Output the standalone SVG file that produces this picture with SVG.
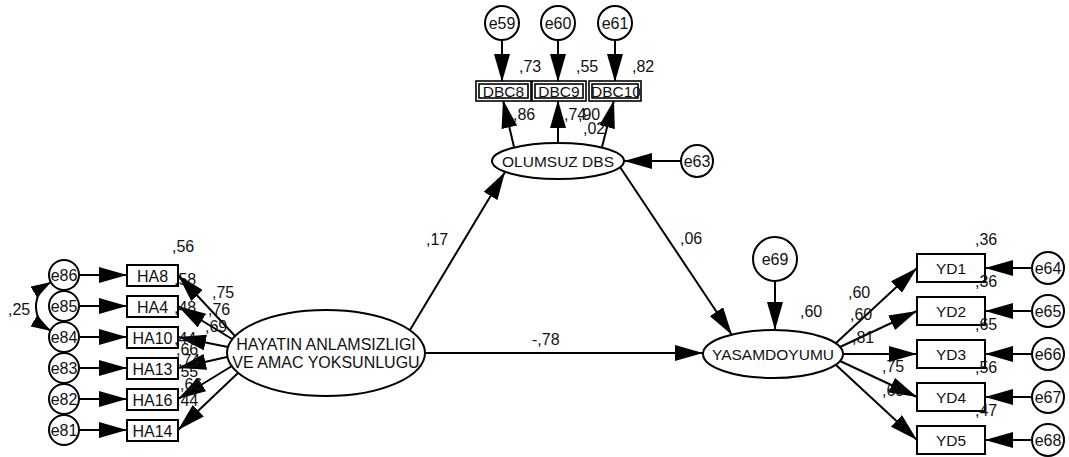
<svg xmlns="http://www.w3.org/2000/svg" width="1069" height="457" viewBox="0 0 1069 457">
<style>
  .shape { fill: #ffffff; stroke: #000000; stroke-width: 2; }
  .dbo { fill: #ffffff; stroke: #000000; stroke-width: 1.6; }
  .dbi { fill: none; stroke: #000000; stroke-width: 1.6; }
  text { font-family: "Liberation Sans", Arial, sans-serif; fill: #111111; }
  .lbl { font-size: 16px; }
  .nt { font-size: 15.5px; text-anchor: middle; }
  .ht { font-size: 16px; text-anchor: middle; }
  .et { font-size: 16px; text-anchor: middle; }
  .con line, .con path { stroke: #000000; stroke-width: 2; fill: none; marker-end: url(#ah); }
  .con path.cov { marker-start: url(#ahs); marker-end: url(#ahs); }
</style>
<defs>
  <marker id="ah" markerUnits="userSpaceOnUse" markerWidth="29" markerHeight="16" refX="28" refY="8" orient="auto">
    <path d="M0,0 L28,8 L0,16 z" fill="#000000"/>
  </marker>
  <marker id="ahs" markerUnits="userSpaceOnUse" markerWidth="21" markerHeight="13" refX="20" refY="6.5" orient="auto-start-reverse">
    <path d="M0,0 L20,6.5 L0,13 z" fill="#000000"/>
  </marker>
</defs>
<rect width="1069" height="457" fill="#ffffff"/>

<!-- connectors -->
<g id="connectors" class="con">
  <line x1="79" y1="275" x2="127" y2="275"/>
  <line x1="79" y1="306" x2="127" y2="306"/>
  <line x1="79" y1="337" x2="127" y2="337"/>
  <line x1="79" y1="368" x2="127" y2="368"/>
  <line x1="79" y1="399" x2="127" y2="399"/>
  <line x1="79" y1="430" x2="127" y2="430"/>
  <path class="cov" d="M51,282 C31,294 31,319 51,331"/>
  <line x1="235" y1="336" x2="178" y2="275"/>
  <line x1="232" y1="339" x2="178" y2="306"/>
  <line x1="228" y1="347" x2="178" y2="337"/>
  <line x1="227" y1="357" x2="178" y2="368"/>
  <line x1="232" y1="366" x2="178" y2="399"/>
  <line x1="238" y1="373" x2="178" y2="430"/>
  <line x1="502" y1="40" x2="502" y2="82"/>
  <line x1="558" y1="40" x2="558" y2="82"/>
  <line x1="615" y1="40" x2="615" y2="82"/>
  <line x1="514" y1="147" x2="503" y2="100"/>
  <line x1="558" y1="143" x2="558" y2="100"/>
  <line x1="602" y1="147" x2="614" y2="100"/>
  <line x1="681" y1="161" x2="624" y2="161"/>
  <line x1="410" y1="330" x2="505" y2="172"/>
  <line x1="620" y1="167" x2="732" y2="335"/>
  <line x1="425" y1="353" x2="703" y2="353"/>
  <line x1="775" y1="281" x2="775" y2="330"/>
  <line x1="836" y1="343" x2="917" y2="268"/>
  <line x1="840" y1="347" x2="917" y2="311"/>
  <line x1="843" y1="354" x2="917" y2="354"/>
  <line x1="840" y1="361" x2="917" y2="397"/>
  <line x1="836" y1="365" x2="917" y2="440"/>
  <line x1="1032" y1="268" x2="985" y2="268"/>
  <line x1="1032" y1="311" x2="985" y2="311"/>
  <line x1="1032" y1="354" x2="985" y2="354"/>
  <line x1="1032" y1="397" x2="985" y2="397"/>
  <line x1="1032" y1="440" x2="985" y2="440"/>
</g>

<g id="e86"><circle class="shape" cx="64" cy="275" r="15"/><text class="et" x="64" y="281">e86</text></g>
<g id="e85"><circle class="shape" cx="64" cy="306" r="15"/><text class="et" x="64" y="312">e85</text></g>
<g id="e84"><circle class="shape" cx="64" cy="337" r="15"/><text class="et" x="64" y="343">e84</text></g>
<g id="e83"><circle class="shape" cx="64" cy="368" r="15"/><text class="et" x="64" y="374">e83</text></g>
<g id="e82"><circle class="shape" cx="64" cy="399" r="15"/><text class="et" x="64" y="405">e82</text></g>
<g id="e81"><circle class="shape" cx="64" cy="430" r="15"/><text class="et" x="64" y="436">e81</text></g>

<g id="HA8"><rect class="shape" x="127" y="265" width="51" height="21"/><text class="ht" x="152.5" y="281.5">HA8</text></g>
<g id="HA4"><rect class="shape" x="127" y="296" width="51" height="21"/><text class="ht" x="152.5" y="312.5">HA4</text></g>
<g id="HA10"><rect class="shape" x="127" y="327" width="51" height="21"/><text class="ht" x="152.5" y="343.5">HA10</text></g>
<g id="HA13"><rect class="shape" x="127" y="358" width="51" height="21"/><text class="ht" x="152.5" y="374.5">HA13</text></g>
<g id="HA16"><rect class="shape" x="127" y="389" width="51" height="21"/><text class="ht" x="152.5" y="405.5">HA16</text></g>
<g id="HA14"><rect class="shape" x="127" y="420" width="51" height="21"/><text class="ht" x="152.5" y="436.5">HA14</text></g>

<g id="HAYATIN">
  <ellipse class="shape" cx="326" cy="353" rx="99" ry="43"/>
  <text class="ht" x="326" y="350">HAYATIN ANLAMSIZLIGI</text>
  <text class="ht" x="326" y="368">VE AMAC YOKSUNLUGU</text>
</g>

<g id="e59"><circle class="shape" cx="502" cy="23" r="17"/><text class="et" x="502" y="29">e59</text></g>
<g id="e60"><circle class="shape" cx="558" cy="23" r="17"/><text class="et" x="558" y="29">e60</text></g>
<g id="e61"><circle class="shape" cx="615" cy="23" r="17"/><text class="et" x="615" y="29">e61</text></g>

<g id="DBC8"><rect class="dbo" x="476" y="81" width="55" height="20"/><rect class="dbi" x="479" y="84" width="49" height="14"/><text class="nt" x="503.5" y="97">DBC8</text></g>
<g id="DBC9"><rect class="dbo" x="532" y="81" width="54" height="20"/><rect class="dbi" x="535" y="84" width="48" height="14"/><text class="nt" x="559" y="97">DBC9</text></g>
<g id="DBC10"><rect class="dbo" x="589" y="81" width="52" height="20"/><rect class="dbi" x="592" y="84" width="46" height="14"/><text class="nt" x="616" y="97">DBC10</text></g>

<g id="OLUMSUZ"><ellipse class="shape" cx="558" cy="161" rx="66" ry="18"/><text class="nt" x="558" y="167">OLUMSUZ DBS</text></g>
<g id="e63"><circle class="shape" cx="697" cy="161" r="16"/><text class="et" x="697" y="167">e63</text></g>

<g id="YASAMDOYUMU"><ellipse class="shape" cx="773" cy="354" rx="70" ry="24"/><text class="nt" x="773" y="360">YASAMDOYUMU</text></g>
<g id="e69"><circle class="shape" cx="775" cy="259" r="22"/><text class="et" x="775" y="265">e69</text></g>

<g id="YD1"><rect class="shape" x="917" y="254" width="68" height="28"/><text class="nt" x="951" y="274">YD1</text></g>
<g id="YD2"><rect class="shape" x="917" y="297" width="68" height="28"/><text class="nt" x="951" y="317">YD2</text></g>
<g id="YD3"><rect class="shape" x="917" y="340" width="68" height="28"/><text class="nt" x="951" y="360">YD3</text></g>
<g id="YD4"><rect class="shape" x="917" y="383" width="68" height="28"/><text class="nt" x="951" y="403">YD4</text></g>
<g id="YD5"><rect class="shape" x="917" y="426" width="68" height="28"/><text class="nt" x="951" y="446">YD5</text></g>

<g id="e64"><circle class="shape" cx="1048" cy="268" r="16"/><text class="et" x="1048" y="274">e64</text></g>
<g id="e65"><circle class="shape" cx="1048" cy="311" r="16"/><text class="et" x="1048" y="317">e65</text></g>
<g id="e66"><circle class="shape" cx="1048" cy="354" r="16"/><text class="et" x="1048" y="360">e66</text></g>
<g id="e67"><circle class="shape" cx="1048" cy="397" r="16"/><text class="et" x="1048" y="403">e67</text></g>
<g id="e68"><circle class="shape" cx="1048" cy="440" r="16"/><text class="et" x="1048" y="446">e68</text></g>

<g id="labels">
  <text class="lbl" x="8" y="315">,25</text>
  <text class="lbl" x="172" y="252">,56</text>
  <text class="lbl" x="174" y="285">,58</text>
  <text class="lbl" x="174" y="313">,48</text>
  <text class="lbl" x="174" y="344">,44</text>
  <text class="lbl" x="176" y="355">,66</text>
  <text class="lbl" x="178" y="366">,74</text>
  <text class="lbl" x="176" y="377">,55</text>
  <text class="lbl" x="180" y="390">,66</text>
  <text class="lbl" x="176" y="406">,44</text>
  <text class="lbl" x="212" y="298">,75</text>
  <text class="lbl" x="208" y="315">,76</text>
  <text class="lbl" x="205" y="332">,69</text>
  <text class="lbl" x="519" y="72">,73</text>
  <text class="lbl" x="576" y="72">,55</text>
  <text class="lbl" x="632" y="72">,82</text>
  <text class="lbl" x="513" y="120">,86</text>
  <text class="lbl" x="564" y="120">,74</text>
  <text class="lbl" x="578" y="120">,90</text>
  <text class="lbl" x="583" y="134">,02</text>
  <text class="lbl" x="426" y="245">,17</text>
  <text class="lbl" x="680" y="244">,06</text>
  <text class="lbl" x="532" y="345">-,78</text>
  <text class="lbl" x="800" y="317">,60</text>
  <text class="lbl" x="848" y="298">,60</text>
  <text class="lbl" x="850" y="320">,60</text>
  <text class="lbl" x="852" y="343">,81</text>
  <text class="lbl" x="882" y="372">,75</text>
  <text class="lbl" x="882" y="396">,69</text>
  <text class="lbl" x="975" y="245">,36</text>
  <text class="lbl" x="975" y="287">,36</text>
  <text class="lbl" x="975" y="330">,65</text>
  <text class="lbl" x="975" y="373">,56</text>
  <text class="lbl" x="975" y="416">,47</text>
</g>
</svg>
